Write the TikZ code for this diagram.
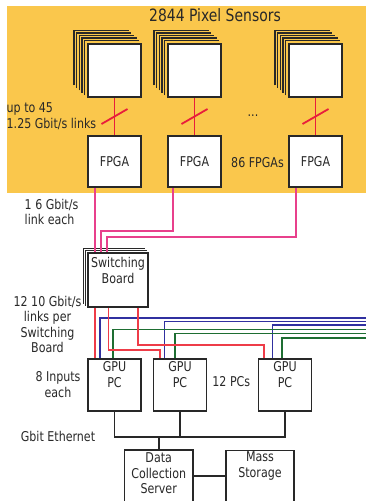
\documentclass[tikz,border=0pt]{standalone}
\usepackage{fontspec}
\setmainfont[FakeStretch=0.82]{DejaVu Sans}
\usetikzlibrary{calc}
\definecolor{bgor}{RGB}{250,199,76}
\definecolor{slashred}{RGB}{232,30,60}
\definecolor{pinkw}{RGB}{232,64,140}
\definecolor{redw}{RGB}{238,60,72}
\definecolor{bluew}{RGB}{48,48,160}
\definecolor{greenw}{RGB}{30,110,50}
\definecolor{ink}{RGB}{40,40,40}
\begin{document}
\begin{tikzpicture}[x=1pt,y=-1pt,
  box/.style={draw=ink, fill=white, line width=1.7pt, inner sep=0pt},
  txt/.style={text=ink, font=\fontsize{13.5}{15.5}\selectfont, align=center, inner sep=0pt},
  stackl/.style={draw=ink, line width=1.4pt},
  wire/.style={line width=1.8pt},
  blk/.style={draw=ink, line width=1.7pt}]
\useasboundingbox (0,0) rectangle (366,501);
\clip (0,0) rectangle (366,501);
\fill[bgor] (7,6) rectangle (366,193);

\node[txt, font=\fontsize{17}{20}\selectfont] (title) at (215,15) {2844 Pixel Sensors};

% sensors
\node[box, minimum width=53pt, minimum height=53pt] (sens1) at (114.5,70.5) {};
\node[box, minimum width=53pt, minimum height=53pt] (sens2) at (194.5,70.5) {};
\node[box, minimum width=53pt, minimum height=53pt] (sens3) at (315.5,70.5) {};
\foreach \s in {sens1,sens2,sens3}{
  \foreach \k in {1,...,5}{
    \draw[stackl] ($(\s.south west)+({-2.6*\k},{-2.5*\k})$) -- ($(\s.north west)+({-2.6*\k},{-2.5*\k})$) -- ($(\s.north east)+({-2.6*\k},{-2.5*\k})$);
  }
}

% FPGAs
\node[box, minimum width=53pt, minimum height=51pt] (fpga1) at (114.5,161.5) {};
\node[box, minimum width=53pt, minimum height=51pt] (fpga2) at (194.5,161.5) {};
\node[box, minimum width=53pt, minimum height=51pt] (fpga3) at (315.5,161.5) {};
\node[txt] (fpga1t) at (fpga1) {FPGA};
\node[txt] (fpga2t) at (fpga2) {FPGA};
\node[txt] (fpga3t) at (fpga3) {FPGA};

% sensor links
\foreach \i in {1,2,3}{
  \draw[wire, slashred] (sens\i.south) -- (fpga\i.north);
  \draw[wire, slashred] ($(sens\i.south)!0.5!(fpga\i.north)+(-13,7.5)$) -- ++(26,-15);
}

\node[txt, anchor=west, align=left, font=\fontsize{13.5}{16}\selectfont] (lnk) at (6.5,116.5) {up to 45\\1.25 Gbit/s links};
\node[txt] (dots) at (253,116) {...};
\node[txt] (nfpga) at (257.5,163) {86 FPGAs};
\node[txt, anchor=west, align=left, font=\fontsize{13.5}{14.5}\selectfont] (six) at (24.5,212) {1 6 Gbit/s\\link each};

% switching board
\node[box, minimum width=60pt, minimum height=53.4pt] (board) at (118,280) {};
\foreach \k in {2,4}{
  \draw[stackl, line width=1.1pt] ($(board.south west)+(-\k,-\k)$) -- ($(board.north west)+(-\k,-\k)$) -- ($(board.north east)+(-\k,-\k)$);
}
\node[txt] (boardt) at (118,270.5) {Switching\\Board};

% pink links
\coordinate (bus2) at (0,231);
\coordinate (bus3) at (0,236.7);
\coordinate (bi1) at ([xshift=8pt]board.north west);
\coordinate (bi2) at ([xshift=14pt]board.north west);
\coordinate (bi3) at ([xshift=19.7pt]board.north west);
\draw[wire, pinkw] ([xshift=8pt]fpga1.south west) -- (bi1);
\draw[wire, pinkw] ([xshift=6pt]fpga2.south west) |- (bi2 |- bus2) -- (bi2);
\draw[wire, pinkw] ([xshift=8pt]fpga3.south west) |- (bi3 |- bus3) -- (bi3);

\node[txt] (ten) at (47.5,324.6) {12 10 Gbit/s\\links per\\Switching\\Board};

% GPU PCs
\node[box, minimum width=53pt, minimum height=52pt] (gpu1) at (114.5,385) {};
\node[box, minimum width=53pt, minimum height=52pt] (gpu2) at (180,385) {};
\node[box, minimum width=53pt, minimum height=52pt] (gpu3) at (285,385) {};
\node[txt] (gpu1t) at (114.5,374.7) {GPU\\PC};
\node[txt] (gpu2t) at (180,374.7) {GPU\\PC};
\node[txt] (gpu3t) at (285,374.7) {GPU\\PC};

% board to GPU links
\coordinate (rb2) at (0,350);
\coordinate (rb3) at (0,345.3);
\coordinate (g2r) at ([xshift=7.5pt]gpu2.north west);
\coordinate (g3r) at ([xshift=6.5pt]gpu3.north west);
\coordinate (bl1) at (367,318);
\coordinate (bl2) at (367,321.5);
\coordinate (bl3) at (367,324.7);
\coordinate (gr1) at (367,329.5);
\coordinate (gr2) at (367,333.5);
\coordinate (gr3) at (367,337.7);
\draw[wire, bluew] (bl1) -| ([xshift=12.7pt]gpu1.north west);
\draw[wire, bluew] (bl2) -| ([xshift=11.8pt]gpu2.north west);
\draw[wire, bluew] (bl3) -| ([xshift=14.8pt]gpu3.north west);
\draw[wire, greenw] (gr1) -| ([xshift=26pt]gpu1.north west);
\draw[wire, greenw] (gr2) -| ([xshift=22pt]gpu2.north west);
\draw[wire, greenw] (gr3) -| ([xshift=24.2pt]gpu3.north west);
\draw[wire, redw] ([xshift=8pt]board.south west) -- ([xshift=8pt]gpu1.north west);
\draw[wire, redw] ([xshift=21.3pt]board.south west) |- (g2r |- rb2) -- (g2r);
\draw[wire, redw] ([xshift=51pt]board.south west) |- (g3r |- rb3) -- (g3r);

\node[txt] (inp) at (58,384.5) {8 Inputs\\each};
\node[txt] (npc) at (231.3,381.7) {12 PCs};
\node[txt] (eth) at (58,436.7) {Gbit Ethernet};

% servers
\node[box, minimum width=68.7pt, minimum height=54pt] (dcs) at (158.7,477) {};
\node[box, minimum width=68.6pt, minimum height=54pt] (ms) at (260,477.5) {};
\node[txt, font=\fontsize{13.5}{15.8}\selectfont] (dcst) at (158.7,473.2) {Data\\Collection\\Server};
\node[txt, font=\fontsize{13.5}{16}\selectfont] (mst) at (260,466.3) {Mass\\Storage};

% ethernet
\coordinate (ebus) at (0,437.3);
\draw[blk] (gpu1.south) |- (gpu3.south |- ebus) -- (gpu3.south);
\draw[blk] (gpu2.south) -- (gpu2.south |- ebus);
\draw[blk] (dcs.north) -- (dcs.north |- ebus);
\draw[blk] ([yshift=1pt]dcs.east) -- ([yshift=1pt]dcs.east -| ms.west);
\end{tikzpicture}
\end{document}
